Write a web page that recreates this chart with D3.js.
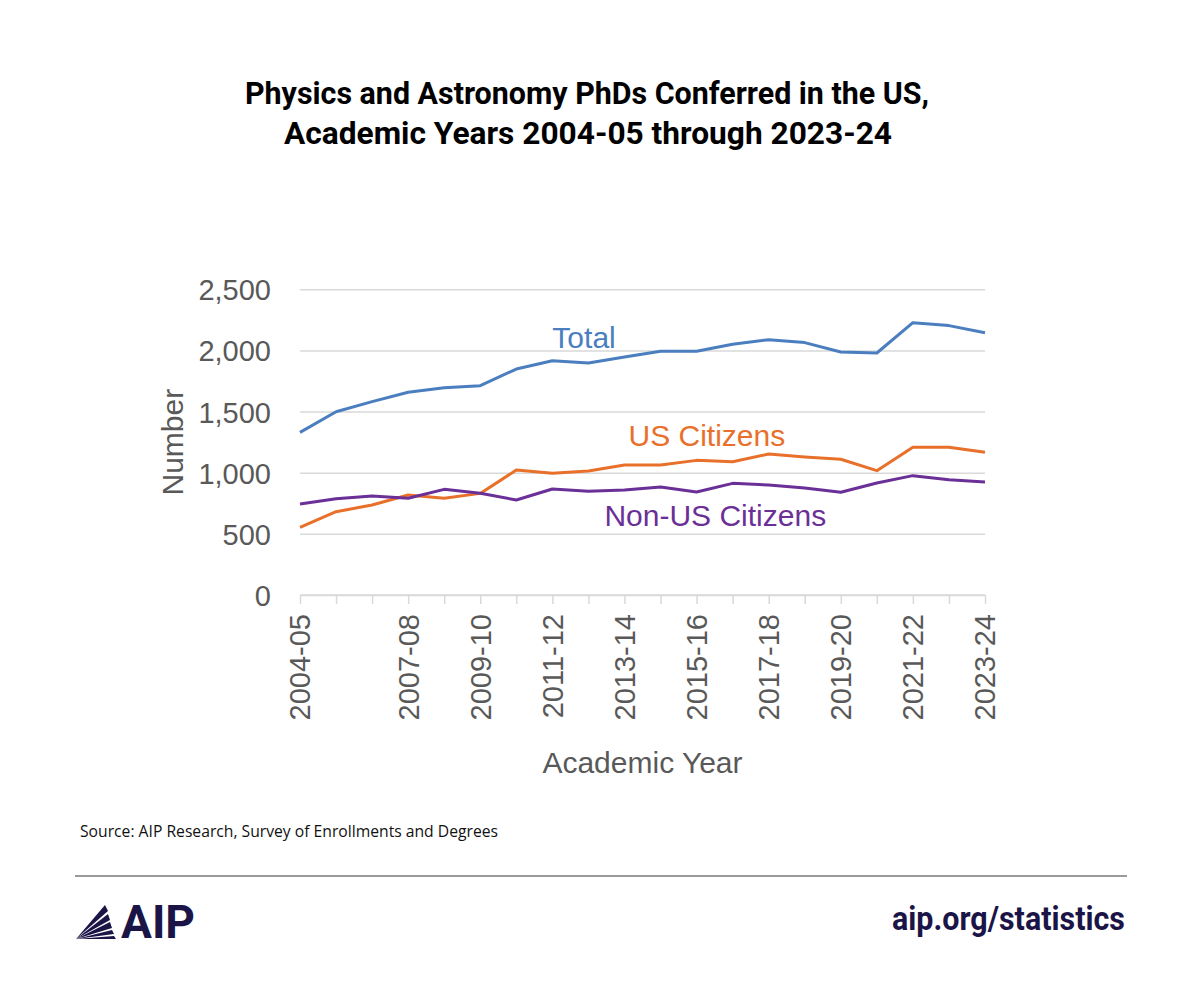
<!DOCTYPE html>
<html>
<head>
<meta charset="utf-8">
<script src="https://cdn.jsdelivr.net/npm/d3@7"></script>
<style>
  body { margin: 0; background: #fff; }
  svg { display: block; }
</style>
</head>
<body>
<svg></svg>
<script>
var svg = d3.select("svg").attr("width", 1200).attr("height", 992);

// data
var years = ["2004-05", "2005-06", "2006-07", "2007-08", "2008-09", "2009-10", "2010-11",
  "2011-12", "2012-13", "2013-14", "2014-15", "2015-16", "2016-17", "2017-18", "2018-19",
  "2019-20", "2020-21", "2021-22", "2022-23", "2023-24"];
var total = [1330, 1499, 1581, 1658, 1695, 1712, 1848, 1916, 1897, 1946,
  1993, 1993, 2050, 2088, 2064, 1987, 1979, 2227, 2203, 2145];
var usCitizens = [553, 681, 736, 818, 791, 831, 1022, 995, 1014, 1063,
  1063, 1101, 1090, 1153, 1129, 1110, 1017, 1208, 1208, 1167];
var nonUsCitizens = [744, 788, 810, 791, 864, 832, 777, 867, 848, 859,
  883, 842, 913, 900, 875, 840, 916, 976, 943, 924];
var xLabels = ["2004-05", "2007-08", "2009-10", "2011-12", "2013-14", "2015-16",
  "2017-18", "2019-20", "2021-22", "2023-24"];
var yTicks = [0, 500, 1000, 1500, 2000, 2500];

var series = [
  { name: "Total", values: total, color: "#4a7ebf" },
  { name: "US Citizens", values: usCitizens, color: "#e8702a" },
  { name: "Non-US Citizens", values: nonUsCitizens, color: "#6b2f98" }
];

var plotLeft = 300, plotRight = 985, plotTop = 289.3, plotBottom = 595;
var x = d3.scalePoint().domain(years).range([plotLeft, plotRight]);
var y = d3.scaleLinear().domain([0, 2500]).range([plotBottom, plotTop]);

var axisFont = "'Liberation Sans', Arial, sans-serif";
var grey = "#595959";
var gridColor = "#d9d9d9";

// title
var title = svg.append("g")
  .attr("font-family", "Roboto, sans-serif")
  .attr("font-weight", "bold")
  .attr("font-size", 32)
  .attr("fill", "#000")
  .attr("text-anchor", "middle");
title.append("text").attr("x", 587).attr("y", 104)
  .attr("textLength", 684).attr("lengthAdjust", "spacingAndGlyphs")
  .text("Physics and Astronomy PhDs Conferred in the US,");
title.append("text").attr("x", 588).attr("y", 144)
  .attr("textLength", 608).attr("lengthAdjust", "spacingAndGlyphs")
  .text("Academic Years 2004-05 through 2023-24");

// y axis + gridlines
var yAxis = svg.append("g")
  .attr("transform", "translate(" + plotLeft + ",0)")
  .call(d3.axisLeft(y)
    .tickValues(yTicks)
    .tickSize(-(plotRight - plotLeft))
    .tickPadding(29)
    .tickFormat(d3.format(",")));
yAxis.select(".domain").remove();
yAxis.selectAll(".tick line").attr("stroke", gridColor).attr("stroke-width", 1.5);
yAxis.selectAll(".tick text")
  .attr("font-family", axisFont)
  .attr("font-size", 29)
  .attr("fill", grey)
  .attr("dy", "0.36em");

// x axis
var xAxis = svg.append("g")
  .attr("transform", "translate(0," + plotBottom + ")")
  .call(d3.axisBottom(x).tickSize(9).tickFormat(""));
xAxis.select(".domain").attr("stroke", gridColor).attr("stroke-width", 1.5)
  .attr("d", "M" + plotLeft + ",0H" + plotRight);
xAxis.selectAll(".tick line").attr("stroke", gridColor).attr("stroke-width", 1.5);

svg.append("g")
  .selectAll("text")
  .data(xLabels)
  .enter().append("text")
  .attr("transform", function (d) {
    return "translate(" + x(d) + "," + (plotBottom + 19) + ") rotate(-90)";
  })
  .attr("text-anchor", "end")
  .attr("dy", "0.36em")
  .attr("font-family", axisFont)
  .attr("font-size", 29)
  .attr("fill", grey)
  .text(function (d) { return d; });

// axis titles
svg.append("text")
  .attr("transform", "translate(183," + (plotTop + plotBottom) / 2 + ") rotate(-90)")
  .attr("text-anchor", "middle")
  .attr("font-family", axisFont)
  .attr("font-size", 30)
  .attr("fill", grey)
  .text("Number");

svg.append("text")
  .attr("x", (plotLeft + plotRight) / 2)
  .attr("y", 773)
  .attr("text-anchor", "middle")
  .attr("font-family", axisFont)
  .attr("font-size", 30)
  .attr("fill", grey)
  .text("Academic Year");

// lines
var line = d3.line()
  .x(function (d, i) { return x(years[i]); })
  .y(function (d) { return y(d); });

svg.append("g")
  .attr("fill", "none")
  .attr("stroke-width", 3)
  .attr("stroke-linejoin", "round")
  .selectAll("path")
  .data(series)
  .enter().append("path")
  .attr("stroke", function (d) { return d.color; })
  .attr("d", function (d) { return line(d.values); });

// series labels
var labelPos = [
  { x: x(years[7]), y: y(2020) },
  { x: x(years[9]) + 4, y: y(1218) },
  { x: x(years[8]) + 16, y: y(564) }
];
svg.append("g")
  .selectAll("text")
  .data(series)
  .enter().append("text")
  .attr("x", function (d, i) { return labelPos[i].x; })
  .attr("y", function (d, i) { return labelPos[i].y; })
  .attr("font-family", axisFont)
  .attr("font-size", 30)
  .attr("fill", function (d) { return d.color; })
  .text(function (d) { return d.name; });

// footer
svg.append("text")
  .attr("x", 80).attr("y", 837)
  .attr("font-family", "'Open Sans', sans-serif")
  .attr("font-size", 16)
  .attr("fill", "#111")
  .attr("textLength", 418).attr("lengthAdjust", "spacingAndGlyphs")
  .text("Source: AIP Research, Survey of Enrollments and Degrees");

svg.append("line")
  .attr("x1", 75).attr("x2", 1127)
  .attr("y1", 876).attr("y2", 876)
  .attr("stroke", "#9a9a9a").attr("stroke-width", 2);

var navy = "#1b1547";
// logo fan: thin wedges from bottom-left corner
var fan = svg.append("g").attr("fill", navy);
var fanTips = [[105, 905, 108, 911], [108, 914, 110, 920], [110, 922, 112, 928], [112, 930, 114, 934], [114, 936, 116, 939]];
fanTips.forEach(function (t) {
  fan.append("path").attr("d", "M76,939L" + t[0] + "," + t[1] + "L" + t[2] + "," + t[3] + "Z");
});
svg.append("text")
  .attr("x", 121).attr("y", 938)
  .attr("font-family", "Roboto, sans-serif")
  .attr("font-weight", "bold")
  .attr("font-size", 46)
  .attr("fill", navy)
  .attr("textLength", 74).attr("lengthAdjust", "spacingAndGlyphs")
  .text("AIP");

svg.append("text")
  .attr("x", 1125).attr("y", 930)
  .attr("text-anchor", "end")
  .attr("font-family", "Roboto, sans-serif")
  .attr("font-weight", "bold")
  .attr("font-size", 34)
  .attr("fill", navy)
  .attr("textLength", 233).attr("lengthAdjust", "spacingAndGlyphs")
  .text("aip.org/statistics");
</script>
</body>
</html>
